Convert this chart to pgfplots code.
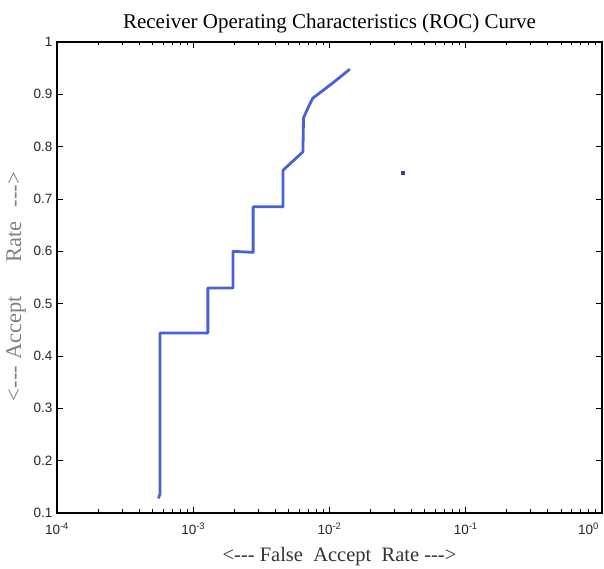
\documentclass[border=0pt]{standalone}
\usepackage{fontspec}
\setmainfont{Liberation Serif}
\setsansfont{Liberation Sans}
\usepackage{pgfplots}
\pgfplotsset{compat=1.18}
\usetikzlibrary{calc}
\definecolor{roc}{RGB}{72,98,212}
\begin{document}
\begin{tikzpicture}
\begin{semilogxaxis}[
  name=ax,
  scale only axis,
  width=545pt, height=471pt,
  xmin=1e-4, xmax=1, ymin=0.1, ymax=1,
  axis line style={line width=1.1pt, black},
  tick style={black, line width=0.8pt},
  tick align=inside,
  major tick length=6pt,
  minor tick length=3.5pt,
  xtick={1e-4,1e-3,1e-2,1e-1,1},
  xticklabels={10\textsuperscript{-4},10\textsuperscript{-3},10\textsuperscript{-2},10\textsuperscript{-1},\makebox[0pt][r]{10\textsuperscript{0}\hspace{3pt}}},
  minor xtick={2e-4,3e-4,4e-4,5e-4,6e-4,7e-4,8e-4,9e-4,2e-3,3e-3,4e-3,5e-3,6e-3,7e-3,8e-3,9e-3,2e-2,3e-2,4e-2,5e-2,6e-2,7e-2,8e-2,9e-2,2e-1,3e-1,4e-1,5e-1,6e-1,7e-1,8e-1,9e-1},
  ytick={0.1,0.2,0.3,0.4,0.5,0.6,0.7,0.8,0.9,1},
  yticklabels={0.1,0.2,0.3,0.4,0.5,0.6,0.7,0.8,0.9,1},
  ticklabel style={font=\fontsize{13.5}{13.5}\selectfont\sffamily, text=black!85},
  xticklabel style={yshift=-6pt},
  yticklabel style={xshift=-1pt},
  title={Receiver Operating Characteristics (ROC) Curve},
  title style={font=\fontsize{21}{21}\selectfont, yshift=-1pt},
  xlabel={<{-}{-}{-} False\ \ Accept\ \ Rate {-}{-}{-}>},
  xlabel style={font=\fontsize{20.5}{20.5}\selectfont, text=black!80, yshift=-6pt, xshift=10pt},
  ylabel={<{-}{-}{-}\hspace{6pt}Accept\hspace{34pt}Rate\hspace{14pt}{-}{-}{-}>},
  ylabel style={font=\fontsize{22.5}{22.5}\selectfont, text=black!50, yshift=1pt, xshift=-9pt},
]
\addplot[roc, line width=2.8pt, line join=round] coordinates {
(5.55e-4,0.128) (5.7e-4,0.136) (5.7e-4,0.444) (1.28e-3,0.444) (1.28e-3,0.530)
(1.96e-3,0.530) (1.96e-3,0.600) (2.75e-3,0.598) (2.75e-3,0.685) (4.56e-3,0.685)
(4.56e-3,0.755) (6.38e-3,0.790) (6.45e-3,0.855) (6.95e-3,0.874) (7.56e-3,0.893)
(8.51e-3,0.903) (1.06e-2,0.922) (1.41e-2,0.948)
};
\addplot[only marks, mark=square*, mark size=1.2pt, color=roc!70!black] coordinates {(0.0344,0.750)};
\end{semilogxaxis}
\pgfresetboundingbox
\path ($(ax.south west)+(-57pt,-56pt)$) rectangle ($(ax.north east)+(2pt,42pt)$);
\end{tikzpicture}
\end{document}
